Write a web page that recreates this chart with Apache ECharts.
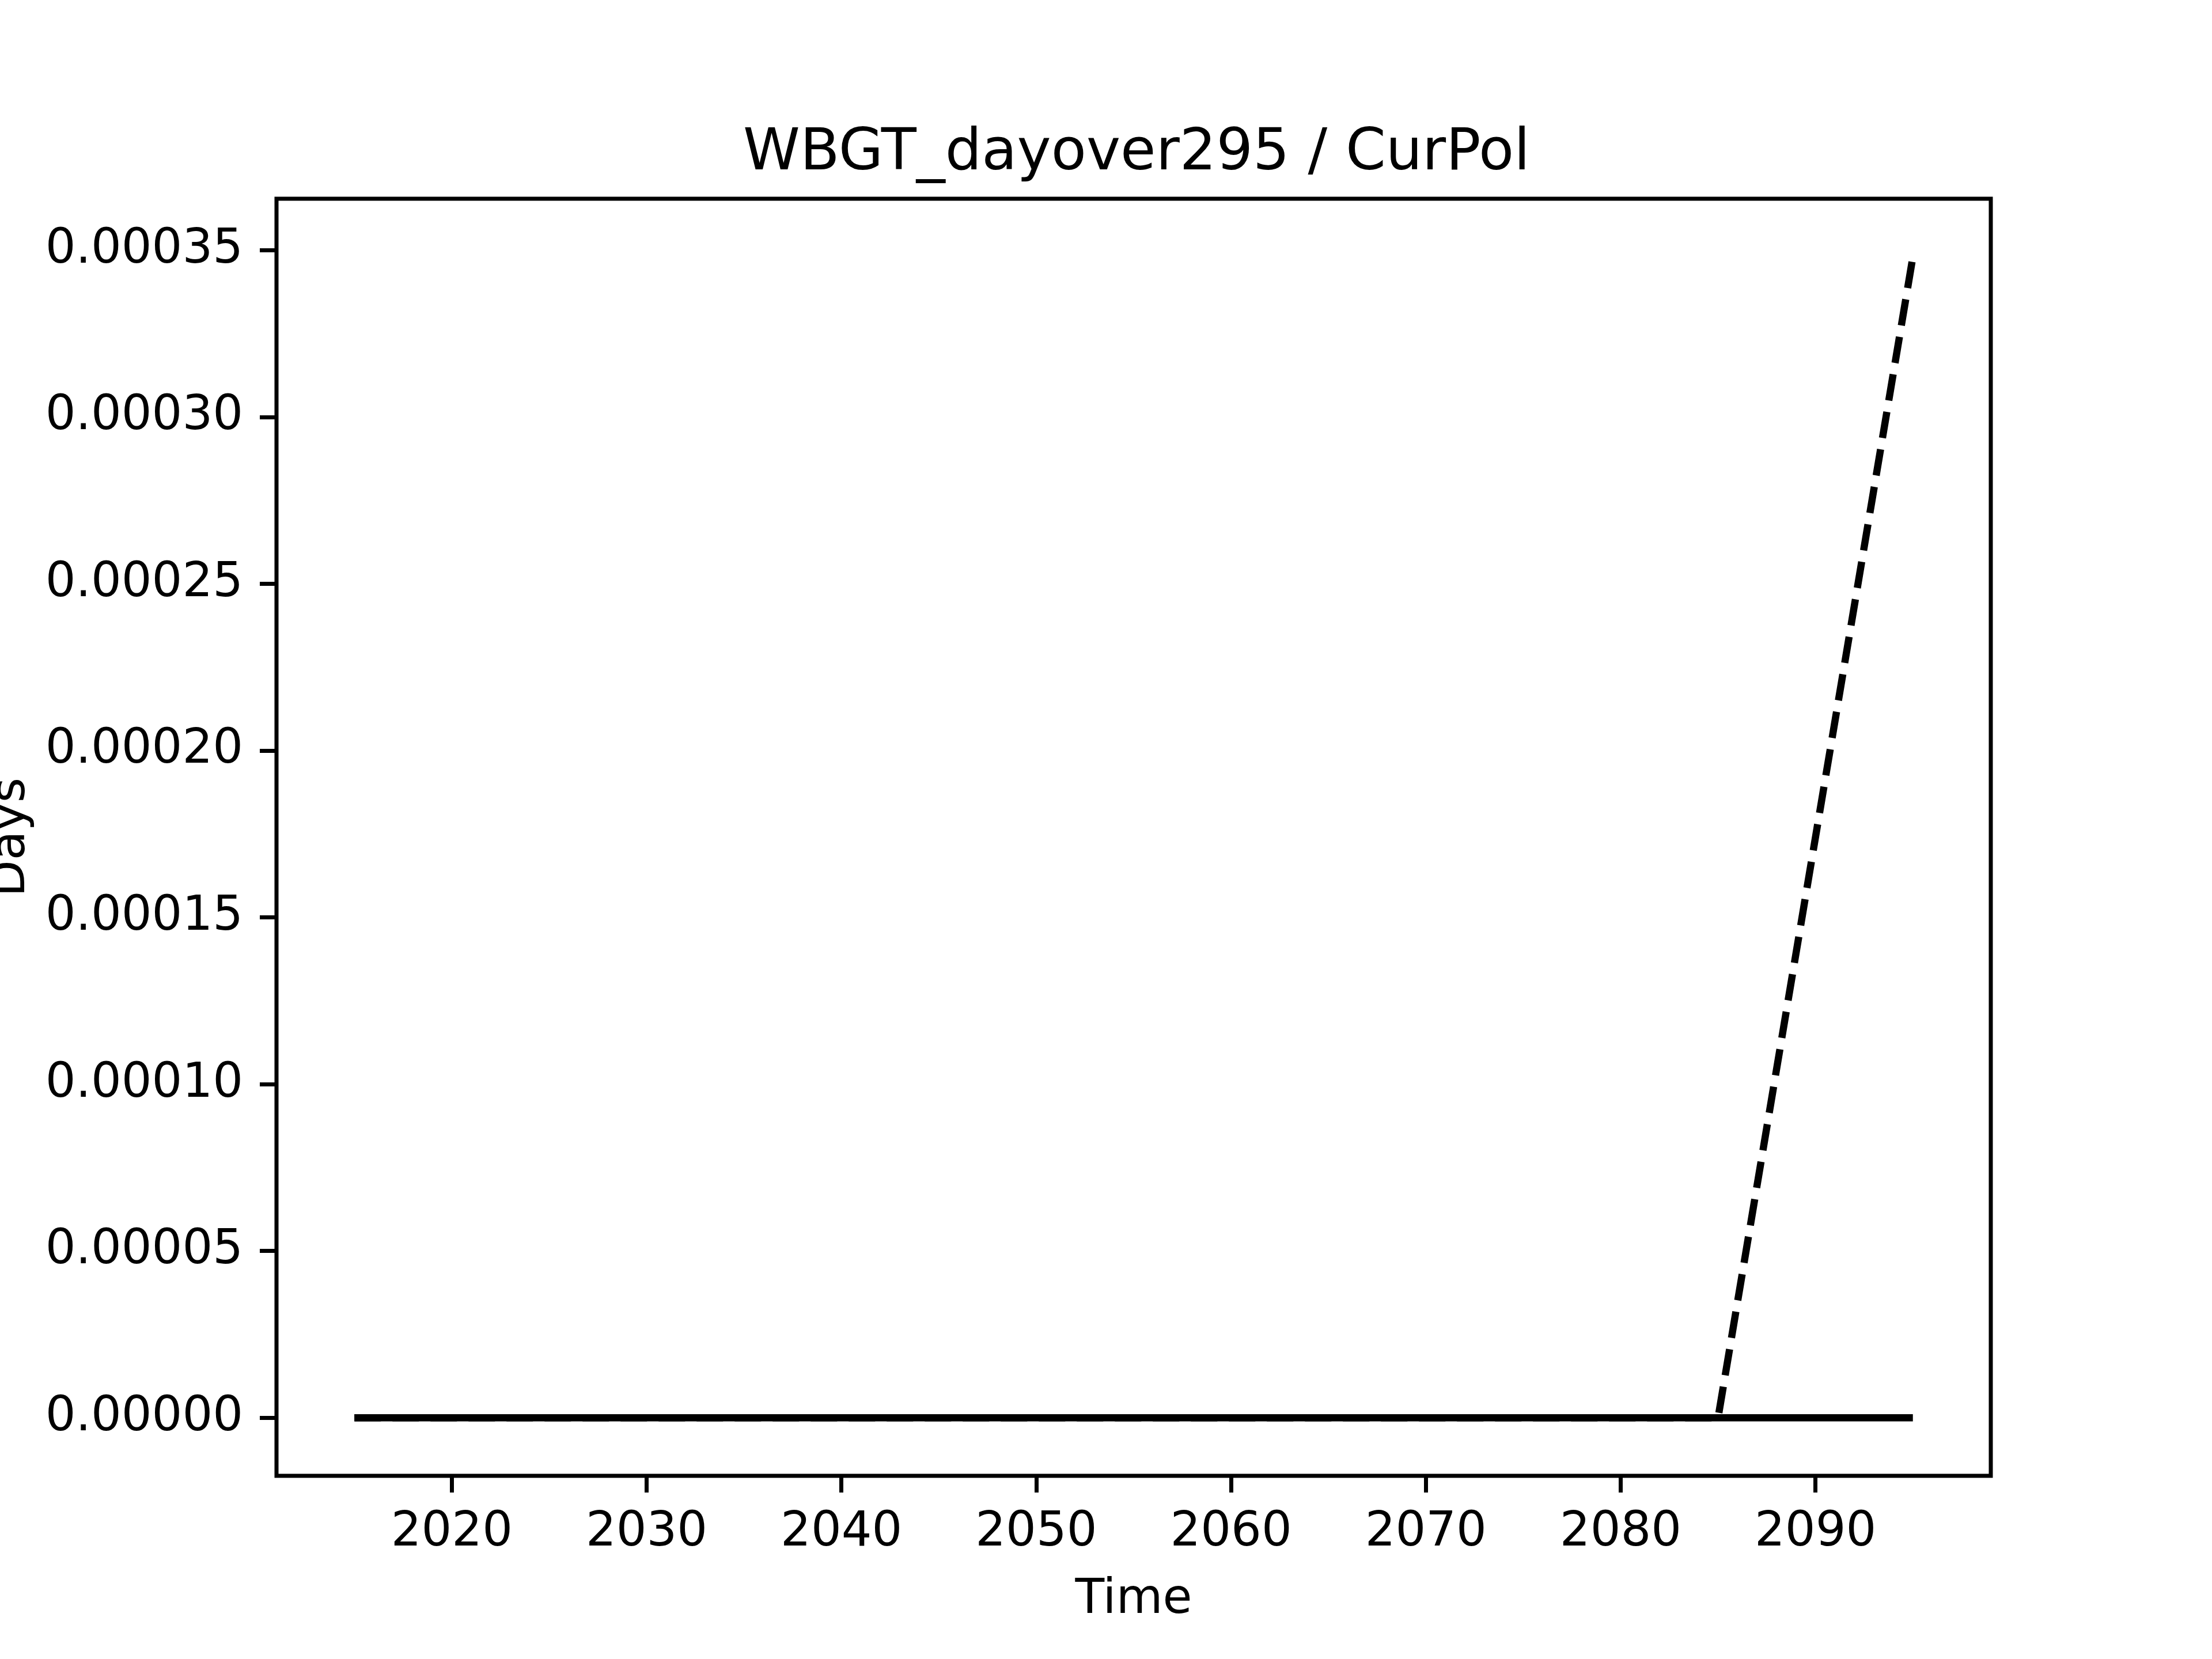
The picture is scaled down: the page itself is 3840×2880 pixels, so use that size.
<!DOCTYPE html>
<html>
<head>
<meta charset="utf-8">
<script src="https://cdn.jsdelivr.net/npm/echarts@6/dist/echarts.min.js"></script>
<style>html,body{margin:0;padding:0;background:#fff}#c{width:3840px;height:2880px}</style>
</head>
<body>
<div id="c"></div>
<script>
const years = [2015, 2025, 2035, 2045, 2055, 2065, 2075, 2085, 2095];
const solidValues = [0, 0, 0, 0, 0, 0, 0, 0, 0];
const dashedValues = [0, 0, 0, 0, 0, 0, 0, 0, 0.000348];
const xTicks = [2020, 2030, 2040, 2050, 2060, 2070, 2080, 2090];
const yTicks = [0, 0.00005, 0.0001, 0.00015, 0.0002, 0.00025, 0.0003, 0.00035];
const titleText = 'WBGT_dayover295 / CurPol';

const font = 'DejaVu Sans';
const chart = echarts.init(document.getElementById('c'), null, {renderer: 'canvas'});
const ymax = Math.max(...dashedValues, ...solidValues);
chart.setOption({
  animation: false,
  backgroundColor: '#fff',
  title: {
    text: titleText, left: 1968, top: 213, textAlign: 'center',
    textStyle: {fontFamily: font, fontSize: 100, fontWeight: 'normal', color: '#000'}
  },
  grid: {left: 480, right: 384, top: 345, bottom: 318, show: true, borderColor: '#000', borderWidth: 7,
         backgroundColor: 'transparent', containLabel: false, outerBoundsMode: 'none'},
  xAxis: {
    type: 'value', min: 2011, max: 2099,
    name: 'Time', nameLocation: 'middle', nameGap: 175,
    nameTextStyle: {fontFamily: font, fontSize: 83, color: '#000'},
    axisLine: {show: false, onZero: false},
    axisTick: {show: true, length: 29, inside: false, lineStyle: {color: '#000', width: 7}, customValues: xTicks},
    axisLabel: {fontFamily: font, fontSize: 83, color: '#000', margin: 58, customValues: xTicks, formatter: v => String(v)},
    splitLine: {show: false}
  },
  yAxis: {
    type: 'value', min: -0.05 * ymax, max: 1.05 * ymax,
    name: 'Days', nameLocation: 'middle', nameGap: 418,
    nameTextStyle: {fontFamily: font, fontSize: 83, color: '#000'},
    axisLine: {show: false, onZero: false},
    axisTick: {show: true, length: 29, inside: false, lineStyle: {color: '#000', width: 7}, customValues: yTicks},
    axisLabel: {fontFamily: font, fontSize: 83, color: '#000', margin: 58, customValues: yTicks, formatter: v => v.toFixed(5)},
    splitLine: {show: false}
  },
  series: [
    {type: 'line', data: years.map((y, i) => [y, solidValues[i]]), symbol: 'none',
     lineStyle: {color: '#000', width: 12.5, cap: 'butt'}},
    {type: 'line', data: years.map((y, i) => [y, dashedValues[i]]), symbol: 'none',
     lineStyle: {color: '#000', width: 12.5, type: [46, 20], cap: 'butt'}}
  ]
});
</script>
</body>
</html>
